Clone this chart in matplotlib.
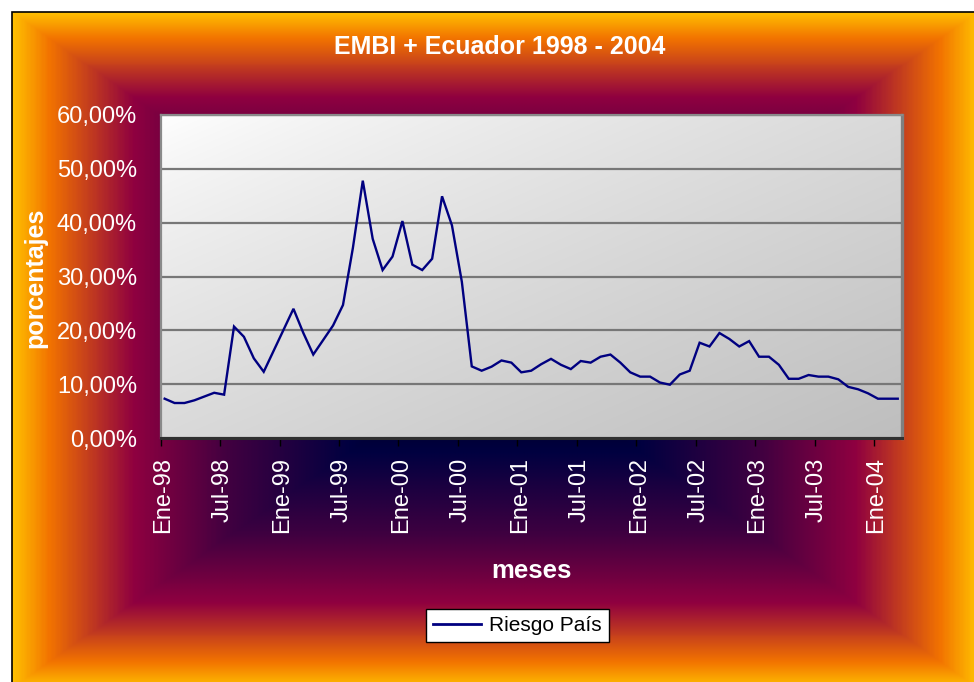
import numpy as np
import matplotlib
matplotlib.use("Agg")
import matplotlib.pyplot as plt
from matplotlib.colors import LinearSegmentedColormap
from matplotlib.patches import Rectangle
from matplotlib.lines import Line2D
import matplotlib.transforms as mtransforms

# ---------------- data ----------------
title = "EMBI + Ecuador 1998 - 2004"
x_title = "meses"
y_title = "porcentajes"
series_name = "Riesgo País"

# monthly values (percent), Ene-98 .. Mar-04
riesgo_pais = [
    7.3, 6.5, 6.5, 7.0, 7.7, 8.4, 8.05, 20.7, 18.8, 14.8, 12.3, 16.2,
    20.1, 24.0, 19.5, 15.5, 18.2, 20.9, 24.7, 35.3, 47.8, 37.0, 31.2, 33.7,
    40.3, 32.2, 31.2, 33.3, 44.9, 39.5, 29.0, 13.3, 12.5, 13.25, 14.4, 14.0,
    12.2, 12.5, 13.7, 14.7, 13.6, 12.8, 14.3, 14.0, 15.1, 15.5, 14.0, 12.2,
    11.4, 11.4, 10.3, 9.9, 11.8, 12.5, 17.7, 17.0, 19.5, 18.4, 17.0, 18.0,
    15.1, 15.1, 13.6, 11.0, 11.0, 11.7, 11.4, 11.4, 10.9, 9.5, 9.05, 8.3,
    7.3, 7.3, 7.3,
]
tick_labels = ["Ene-98", "Jul-98", "Ene-99", "Jul-99", "Ene-00", "Jul-00",
               "Ene-01", "Jul-01", "Ene-02", "Jul-02", "Ene-03", "Jul-03",
               "Ene-04"]
y_ticks = [0, 10, 20, 30, 40, 50, 60]

# ---------------- figure ----------------
plt.rcParams['font.family'] = ['Liberation Sans', 'DejaVu Sans']
W, H = 974, 682
fig = plt.figure(figsize=(W / 100, H / 100), dpi=100, facecolor="white")

def fx(px):
    return px / W

def fy(py):
    return (H - py) / H

# outer chart-area frame with "from center" gradient (Late Sunset like)
fl, ft, fr, fb = 12, 12, 978, 688
bg = fig.add_axes([fx(fl), fy(fb), fx(fr) - fx(fl), fy(ft) - fy(fb)], zorder=0)
bg.set_axis_off()
cmap_frame = LinearSegmentedColormap.from_list(
    "sunset",
    [(0.0, "#000000"), (0.3, "#000040"), (0.55, "#400040"),
     (0.75, "#8F0040"), (0.925, "#F27300"), (1.0, "#FFBF00")])
nu, nv = 700, 500
u = np.linspace(-1, 1, nu)
v = np.linspace(-1, 1, nv)
U, V = np.meshgrid(u, v)
T = np.maximum(np.abs(U), np.abs(V))
bg.imshow(T, cmap=cmap_frame, vmin=0, vmax=1, aspect="auto",
          extent=[0, 1, 0, 1], interpolation="bilinear")
bg.set_xlim(0, 1)
bg.set_ylim(0, 1)
bg.add_patch(Rectangle((0, 0), 1, 1, transform=bg.transAxes, fill=False,
                       edgecolor="black", lw=1.2, clip_on=False))

# plot area
pl, pt, pr, pb = 160.7, 115, 901.7, 438
pos = [fx(pl), fy(pb), fx(pr) - fx(pl), fy(pt) - fy(pb)]
pbg = fig.add_axes(pos, zorder=1)
pbg.set_axis_off()
gu = np.linspace(0, 1, 300)
gv = np.linspace(0, 1, 200)
GU, GV = np.meshgrid(gu, gv)
G = ((GU + GV) / 2) ** 0.8
gray = (255 - (255 - 190) * G) / 255.0
img = np.dstack([gray, gray, gray])
pbg.imshow(img, aspect="auto", extent=[0, 1, 0, 1], origin="upper",
           interpolation="bilinear")
pbg.set_xlim(0, 1)
pbg.set_ylim(0, 1)

ax = fig.add_axes(pos, zorder=2)
ax.patch.set_alpha(0)
x = np.arange(len(riesgo_pais))
ax.plot(x, riesgo_pais, color="#000080", lw=1.7, zorder=3,
        solid_joinstyle="miter", label=series_name)
ax.set_xlim(-0.4, 74.4)
ax.set_ylim(0, 60)

ax.set_yticks(y_ticks)
ax.set_yticklabels([f"{t:.2f}%".replace(".", ",") for t in y_ticks])
ax.yaxis.grid(True, color="#777777", lw=1.6)
ax.set_axisbelow(True)
ax.tick_params(axis="y", length=0, pad=17, labelsize=17, labelcolor="white")

xt = [6 * k - 0.4 for k in range(len(tick_labels))]
ax.set_xticks(xt)
ax.set_xticklabels(tick_labels, rotation=90, va="top", ha="center")
ax.tick_params(axis="x", length=6, width=1.0, color="black", direction="out",
               pad=8, labelsize=17, labelcolor="white")
offset = mtransforms.ScaledTranslation(2.5 / 100, 0, fig.dpi_scale_trans)
for lab in ax.get_xticklabels():
    lab.set_transform(lab.get_transform() + offset)

for side in ["left", "top"]:
    ax.spines[side].set_color("#8a8a8a")
    ax.spines[side].set_linewidth(1.6)
ax.spines["right"].set_color("#808080")
ax.spines["right"].set_linewidth(2.4)
ax.spines["bottom"].set_color("#303030")
ax.spines["bottom"].set_linewidth(2.2)

# texts
fig.text(fx(500), fy(47), title, color="white", fontsize=18,
         fontweight="bold", ha="center", va="center")
fig.text(fx(35), fy(278), y_title, color="white", fontsize=18,
         fontweight="bold", ha="center", va="center", rotation=90)
fig.text(fx(531), fy(571), x_title, color="white", fontsize=18.5,
         fontweight="bold", ha="center", va="center")

# legend
handles = [Line2D([], [], color="#000080", lw=2.0)]
leg = fig.legend(handles, [series_name], loc="center",
                 bbox_to_anchor=(fx(517.5), fy(625.5)),
                 fontsize=15, frameon=True, fancybox=False,
                 handlelength=2.3, handletextpad=0.4, borderpad=0.35,
                 borderaxespad=0)
leg.get_frame().set_facecolor("white")
leg.get_frame().set_edgecolor("black")
leg.get_frame().set_linewidth(1.0)
leg.get_frame().set_alpha(1)
leg.set_zorder(5)

fig.savefig("out.png", dpi=100, facecolor="white")
